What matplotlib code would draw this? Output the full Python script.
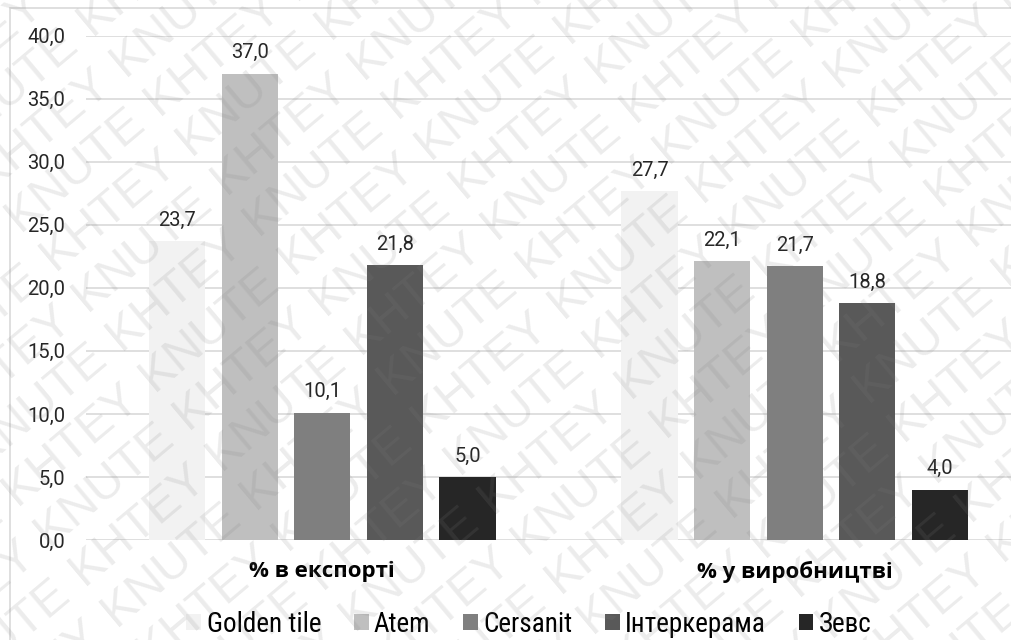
import numpy as np
import matplotlib
matplotlib.use("Agg")
import matplotlib.pyplot as plt
from matplotlib import font_manager
from matplotlib.patches import Rectangle

groups = ["% в експорті", "% у виробництві"]
companies = ["Golden tile", "Atem", "Cersanit", "Інтеркерама", "Зевс"]
export_share = [23.7, 37.0, 10.1, 21.8, 5.0]
production_share = [27.7, 22.1, 21.7, 18.8, 4.0]
colors = ["#f2f2f2", "#bfbfbf", "#7f7f7f", "#595959", "#262626"]
yticks = [0, 5, 10, 15, 20, 25, 30, 35, 40]

values = np.array([export_share, production_share])

# condensed face for the legend if one is around
installed = {f.name for f in font_manager.fontManager.ttflist}
legend_font, legend_size = "Roboto", 17
for name in ["Liberation Sans Narrow", "Roboto Condensed", "Open Sans Condensed", "Arial Narrow"]:
    if name in installed:
        legend_font, legend_size = name, 19.5
        break

fig = plt.figure(figsize=(10.12, 6.4), dpi=100)
fig.patch.set_facecolor("white")

# chart frame
fig.patches.append(Rectangle((10 / 1012, -0.1), 1.2, (640 - 8) / 640 + 0.1,
                             transform=fig.transFigure, fill=False,
                             edgecolor="#d9d9d9", linewidth=1.2))

ax = fig.add_axes([86 / 1012, 100 / 640, 945 / 1012, 504.3 / 640])
ax.set_xlim(0, 2)
ax.set_ylim(0, 40)

x = np.arange(len(groups)) + 0.5
step = 0.1536
width = 0.119
for i, name in enumerate(companies):
    xs = x + (i - 2) * step
    bars = ax.bar(xs, values[:, i], width=width, color=colors[i], label=name, zorder=2)
    for b, v in zip(bars, values[:, i]):
        ax.text(b.get_x() + b.get_width() / 2, v + 0.9, f"{v:.1f}".replace(".", ","),
                ha="center", va="bottom", fontsize=14.5, family="Roboto", color="#262626")

ax.set_yticks(yticks)
ax.set_yticklabels([f"{t:.1f}".replace(".", ",") for t in yticks], family="Roboto", fontsize=14.5)
ax.yaxis.grid(True, color="#d9d9d9", linewidth=1.2, zorder=0)
ax.tick_params(axis="y", length=0, pad=15, colors="#262626")
ax.set_xticks(x)
ax.set_xticklabels(groups, fontsize=16, fontweight="bold", family=["Open Sans", "DejaVu Sans"])
ax.tick_params(axis="x", length=0, pad=15)
for s in ax.spines.values():
    s.set_visible(False)
ax.set_axisbelow(True)

ax.legend(loc="center", bbox_to_anchor=((529 - 86) / 945, (16 - 100) / 504.3), ncol=5, frameon=False,
          prop={"family": [legend_font, "DejaVu Sans"], "size": legend_size},
          handlelength=0.55, handleheight=0.55, handletextpad=0.2, columnspacing=1.2)

# diagonal watermark
ang = np.deg2rad(40)
u = np.array([np.cos(ang), np.sin(ang)])
v = np.array([-np.sin(ang), np.cos(ang)])
for r in range(-30, 30):
    for c in range(-30, 30):
        px, py = c * 180 * u + r * 52 * v
        if -100 < px < 1120 and -100 < py < 740:
            word = "KNUTE" if (r + c) % 2 == 0 else "KHTEY"
            fig.text(px / 1012, py / 640, word, rotation=40, rotation_mode="anchor",
                     ha="center", va="center", fontsize=35, family="Liberation Sans",
                     color="#808080", alpha=0.15, zorder=10)

fig.savefig("out.png", dpi=100)
